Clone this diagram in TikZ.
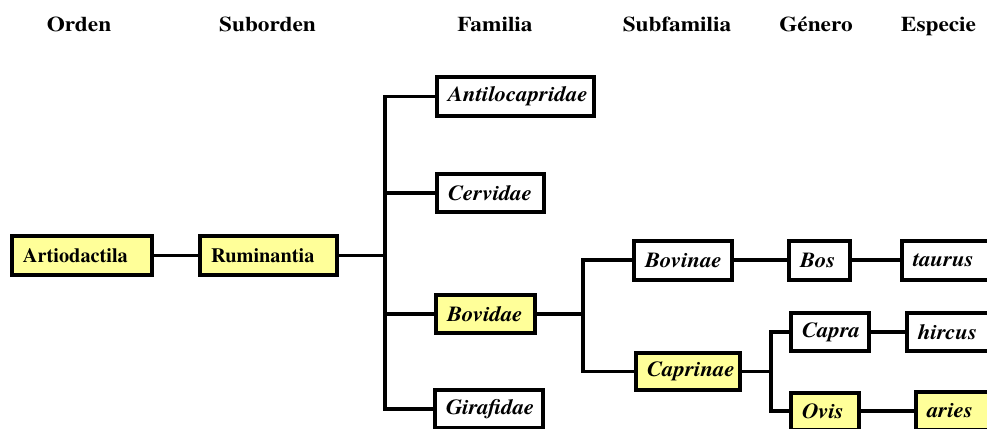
\documentclass[tikz,border=0pt]{standalone}
\usepackage{fontspec}
\setmainfont{TeX Gyre Termes}
\newfontfamily\headfont{TeX Gyre Termes}[FakeStretch=1.11]
\newfontfamily\itfont{TeX Gyre Termes}[FakeStretch=1.06]
\definecolor{yel}{RGB}{255,255,153}
\begin{document}
\begin{tikzpicture}[x=1pt,y=-1pt,
  box/.style={draw=black, line width=4pt, fill=white, inner xsep=11pt, inner ysep=0pt,
    minimum height=39pt, font=\itfont\fontsize{21.5}{24}\selectfont\bfseries\itshape},
  ybox/.style={box, fill=yel},
  upr/.style={font=\rmfamily\fontsize{20.3}{24}\selectfont\bfseries\upshape},
  conn/.style={draw=black, line width=3.3pt},
  head/.style={anchor=base, inner sep=0pt, font=\headfont\fontsize{21}{24}\selectfont\bfseries}]
\useasboundingbox (0,0) rectangle (987,428);
\clip (0,0) rectangle (987,428);
% headers
\node[head] (h1) at (79,32) {Orden};
\node[head] (h2) at (267.5,32) {Suborden};
\node[head] (h3) at (495,32) {Familia};
\node[head] (h4) at (677,32) {Subfamilia};
\node[head] (h5) at (816,32) {Género};
\node[head] (h6) at (938.5,32) {Especie};
% junctions
\coordinate (j1) at (385,255.5);
\coordinate (j2) at (583,314);
\coordinate (j3) at (771,371.5);
% nodes
\node[ybox,upr] (art) at (82,255.5) {\makebox[118pt][l]{Artiodactila}};
\node[ybox,upr] (rum) at (268.5,255.5) {\makebox[115pt][l]{Ruminantia}};
\node[box] (anti) at (515.5,96.5) {\makebox[135pt][l]{Antilocapridae}};
\node[box, minimum height=38pt] (cerv) at (490.5,193) {\makebox[85pt][l]{Cervidae}};
\node[ybox, minimum height=38pt] (bovi) at (485.5,314) {\makebox[77pt][l]{Bovidae}};
\node[box, minimum height=38pt] (gira) at (489,409) {\makebox[86pt][l]{Girafidae}};
\node[box] (bovn) at (683,260) {\makebox[76pt][l]{Bovinae}};
\node[ybox, minimum height=37pt] (capr) at (688,371.5) {\makebox[82pt][l]{Caprinae}};
\node[box] (bos) at (819.5,260) {\makebox[39pt][l]{Bos}};
\node[box] (taur) at (950,260) {\makebox[74pt][l]{taurus}};
\node[box, minimum height=38pt] (capa) at (830,332) {\makebox[56pt][l]{Capra}};
\node[box, minimum height=38pt] (hirc) at (955,332) {\makebox[74pt][l]{hircus}};
\node[ybox, minimum height=37pt] (ovis) at (825,411) {\makebox[46pt][l]{Ovis}};
\node[ybox, minimum height=38pt] (arie) at (964,411) {\makebox[74pt][l]{aries}};
% connectors
\draw[conn] (art.east) -- (rum.west);
\draw[conn] (rum.east) -- (j1);
\draw[conn] (j1) |- (anti.west);
\draw[conn] (j1) |- (cerv.west);
\draw[conn] (j1) |- (bovi.west);
\draw[conn] (j1) |- (gira.west);
\draw[conn] (bovi.east) -- (j2);
\draw[conn] (j2) |- (bovn.west);
\draw[conn] (j2) |- (capr.west);
\draw[conn] (bovn.east) -- (bos.west);
\draw[conn] (bos.east) -- (taur.west);
\draw[conn] (capr.east) -- (j3);
\draw[conn] (j3) |- (capa.west);
\draw[conn] (j3) |- (ovis.west);
\draw[conn] (capa.east) -- (hirc.west);
\draw[conn] (ovis.east) -- (arie.west);
\end{tikzpicture}
\end{document}
